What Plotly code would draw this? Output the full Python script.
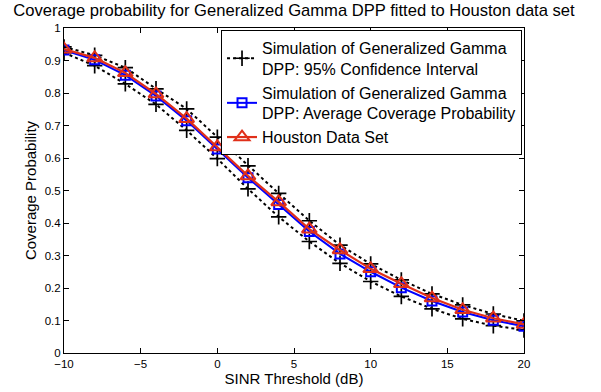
import plotly.graph_objects as go

sinr_db = [-10, -8, -6, -4, -2, 0, 2, 4, 6, 8, 10, 12, 14, 16, 18, 20]
houston = [0.935, 0.908, 0.862, 0.797, 0.721, 0.634, 0.545, 0.465, 0.381, 0.317, 0.259, 0.213, 0.169, 0.133, 0.107, 0.088]
sim_avg = [0.932, 0.902, 0.855, 0.791, 0.715, 0.628, 0.539, 0.457, 0.374, 0.305, 0.250, 0.201, 0.160, 0.126, 0.101, 0.082]
ci_upper = [0.942, 0.916, 0.878, 0.813, 0.751, 0.664, 0.576, 0.491, 0.407, 0.332, 0.274, 0.225, 0.182, 0.148, 0.120, 0.099]
ci_lower = [0.924, 0.884, 0.828, 0.765, 0.685, 0.598, 0.505, 0.419, 0.343, 0.276, 0.220, 0.174, 0.136, 0.105, 0.084, 0.071]

x_ticks = [-10, -5, 0, 5, 10, 15, 20]
x_tick_labels = ["\u221210", "\u22125", "0", "5", "10", "15", "20"]
y_ticks = [0, 0.1, 0.2, 0.3, 0.4, 0.5, 0.6, 0.7, 0.8, 0.9, 1]
y_tick_labels = ["0", "0.1", "0.2", "0.3", "0.4", "0.5", "0.6", "0.7", "0.8", "0.9", "1"]

FONT = "Liberation Sans, Arial, Helvetica, sans-serif"

fig = go.Figure()
fig.add_trace(go.Scatter(
    x=sinr_db, y=ci_upper, mode="lines+markers",
    name="Simulation of Generalized Gamma<br>DPP: 95% Confidence Interval",
    line=dict(color="black", width=2, dash="dot"),
    marker=dict(symbol="cross-thin-open", size=11, line=dict(color="black", width=1.7)),
    legendgroup="ci", showlegend=True))
fig.add_trace(go.Scatter(
    x=sinr_db, y=ci_lower, mode="lines+markers",
    name="ci_lower",
    line=dict(color="black", width=2, dash="dot"),
    marker=dict(symbol="cross-thin-open", size=11, line=dict(color="black", width=1.7)),
    legendgroup="ci", showlegend=False))
fig.add_trace(go.Scatter(
    x=sinr_db, y=sim_avg, mode="lines+markers",
    name="Simulation of Generalized Gamma<br>DPP: Average Coverage Probability",
    line=dict(color="#0000ff", width=2),
    marker=dict(symbol="square-open", size=9, color="#0000ff", line=dict(color="#0000ff", width=2))))
fig.add_trace(go.Scatter(
    x=sinr_db, y=houston, mode="lines+markers",
    name="Houston Data Set",
    line=dict(color="#e0301a", width=2.2),
    marker=dict(symbol="triangle-up-open", size=13, color="#e0301a", line=dict(color="#e0301a", width=2))))

axis_common = dict(
    showgrid=False, zeroline=False, showline=True, linecolor="black", linewidth=1,
    mirror="allticks", ticks="inside", ticklen=5, tickcolor="black",
    tickfont=dict(family=FONT, size=11.5, color="black"),
)
fig.update_layout(
    width=601, height=392,
    margin=dict(l=64, r=77, t=28, b=37),
    paper_bgcolor="white", plot_bgcolor="white",
    title=dict(text="Coverage probability for Generalized Gamma DPP fitted to Houston data set",
               x=0.5, xanchor="center", xref="paper",
               y=1 - 10 / 392, yanchor="middle", yref="container",
               font=dict(family=FONT, size=16.6, color="black")),
    xaxis=dict(range=[-10, 20], tickvals=x_ticks, ticktext=x_tick_labels,
               title=dict(text="SINR Threshold (dB)", standoff=0,
                          font=dict(family=FONT, size=15, color="black")),
               **axis_common),
    yaxis=dict(range=[0, 1], tickvals=y_ticks, ticktext=y_tick_labels,
               title=dict(text="Coverage Probability", standoff=4,
                          font=dict(family=FONT, size=15, color="black")),
               **axis_common),
    legend=dict(x=0.9957, xanchor="right", y=0.994, yanchor="top",
                bgcolor="white", bordercolor="black", borderwidth=1,
                font=dict(family=FONT, size=16, color="black"),
                itemwidth=30, tracegroupgap=0),
    showlegend=True,
)
fig.write_html("out.html")
